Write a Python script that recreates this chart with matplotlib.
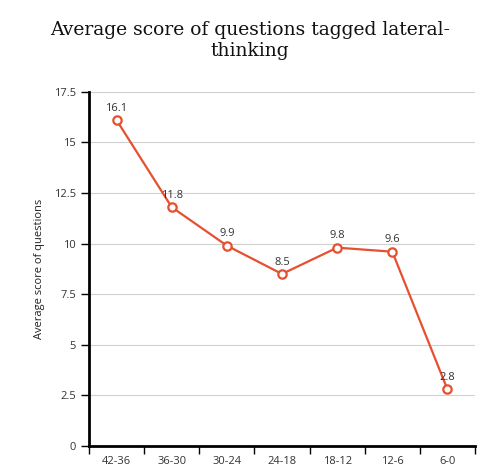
import matplotlib
matplotlib.use("Agg")
import matplotlib.pyplot as plt
import numpy as np

categories = ["42-36", "36-30", "30-24", "24-18", "18-12", "12-6", "6-0"]
scores = [16.1, 11.8, 9.9, 8.5, 9.8, 9.6, 2.8]
y_ticks = [0, 2.5, 5, 7.5, 10, 12.5, 15, 17.5]
y_tick_labels = ["0", "2.5", "5", "7.5", "10", "12.5", "15", "17.5"]

line_color = "#e6502f"
plt.rcParams["font.family"] = ["Open Sans", "DejaVu Sans"]

fig = plt.figure(figsize=(5, 4.73), dpi=100)
ax = fig.add_axes([0.178, 0.057, 0.772, 0.749])

x = np.arange(len(categories))
ax.plot(x, scores, color=line_color, linewidth=1.6, marker="o", markersize=6,
        markerfacecolor="white", markeredgecolor=line_color, markeredgewidth=1.6, zorder=3)
for xi, v in zip(x, scores):
    ax.annotate(f"{v}", (xi, v), xytext=(0, 4.5), textcoords="offset points",
                ha="center", va="bottom", fontsize=8, color="#333333")

ax.set_xlim(-0.5, len(categories) - 0.5)
ax.set_ylim(0, 17.5)
ax.set_yticks(y_ticks)
ax.set_yticklabels(y_tick_labels)
ax.set_xticks(x)
ax.set_xticklabels(categories)
ax.set_xticks(np.arange(len(categories) + 1) - 0.5, minor=True)
ax.tick_params(axis="x", which="major", length=0, pad=7, labelsize=8, labelcolor="#333333")
ax.tick_params(axis="x", which="minor", length=6, width=1, direction="out", color="black")
ax.tick_params(axis="y", length=6, width=1, labelsize=8, labelcolor="#333333")

ax.grid(axis="y", color="#d0d0d0", linewidth=0.8)
ax.set_axisbelow(True)
for side in ["top", "right"]:
    ax.spines[side].set_visible(False)
ax.spines["left"].set_linewidth(2)
ax.spines["bottom"].set_linewidth(2)

ax.set_ylabel("Average score of questions", fontsize=8, color="#222222", labelpad=6)
fig.text(0.5, 0.955, "Average score of questions tagged lateral-\nthinking", ha="center", va="top",
         fontsize=13.5, family="DejaVu Serif", color="#111111", linespacing=1.2)

fig.savefig("out.png", dpi=100)
